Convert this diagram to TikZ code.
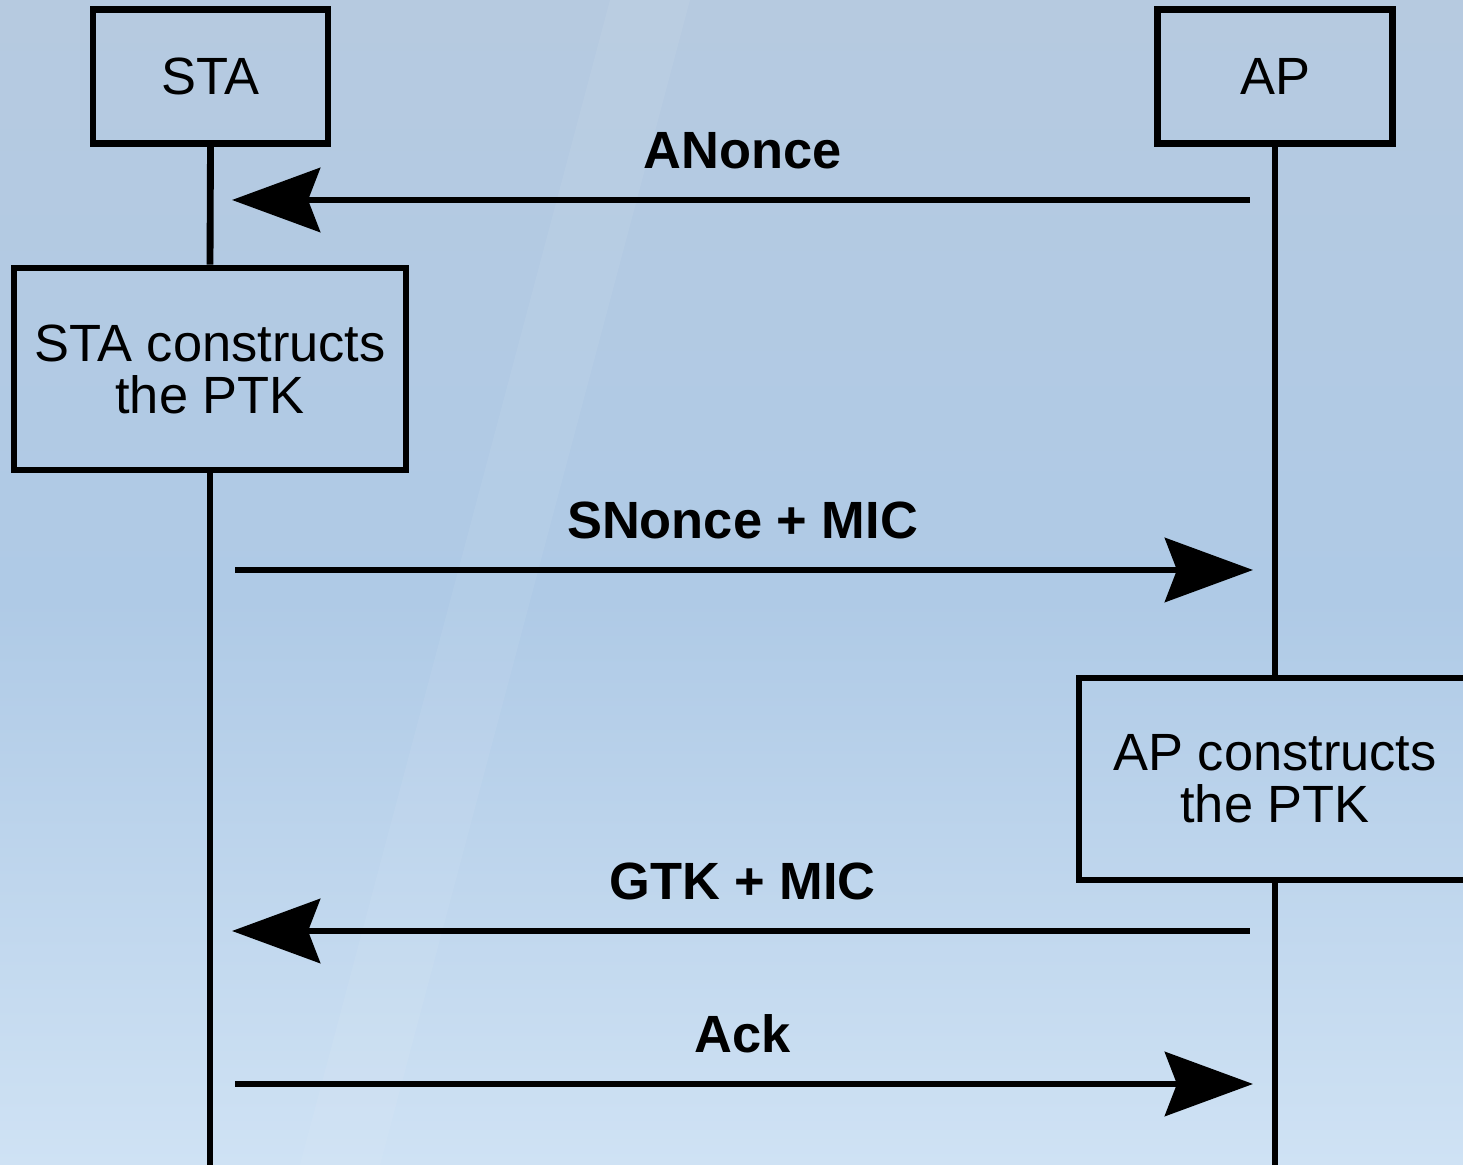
\documentclass[tikz,border=0pt]{standalone}
\usepackage{fontspec}
\setmainfont{Liberation Sans}
\usetikzlibrary{arrows.meta,calc}

\definecolor{bgtop}{HTML}{B6CAE0}
\definecolor{bgmid}{HTML}{AFCAE6}
\definecolor{bgbot}{HTML}{CFE2F4}

\tikzset{
  diagramfont/.style={font=\fontsize{14.9}{14.8}\selectfont},
  actor/.style={draw, line width=1.85pt, minimum width=2.35cm, minimum height=1.34cm,
    inner sep=0pt, diagramfont},
  taskbox/.style={draw, line width=1.85pt, minimum width=3.92cm, minimum height=2.02cm,
    inner sep=0pt, align=center, diagramfont},
  lifeline/.style={line width=1.95pt},
  msg/.style={line width=1.85pt, -{Stealth[length=0.88cm, width=0.64cm, inset=0.12cm]},
    shorten <=0.25cm, shorten >=0.22cm},
  msglabel/.style={midway, above=0.28cm, inner sep=0pt,
    font=\fontsize{14.9}{14.8}\selectfont\bfseries},
}

\begin{document}
\begin{tikzpicture}[x=0.01cm, y=-0.01cm]
  % page frame and soft blue backdrop
  \useasboundingbox (0,0) rectangle (1463,1165);
  \clip (0,0) rectangle (1463,1165);
  \shade[top color=bgtop, bottom color=bgmid] (0,0) rectangle (1463,600);
  \shade[top color=bgmid, bottom color=bgbot] (0,600) rectangle (1463,1165);
  \fill[white, opacity=0.06] (610,0) -- (690,0) -- (380,1165) -- (300,1165) -- cycle;

  % participants
  \node[actor] (sta) at (210.5,76.5) {STA};
  \node[actor] (ap)  at (1275,76.5) {AP};

  % local computation boxes
  \node[taskbox] (stabox) at (210,369) {STA constructs\\the PTK};
  \node[taskbox] (apbox)  at (1275,779) {AP constructs\\the PTK};

  % lifeline ends and message anchors
  \coordinate (staend) at (210,1175);
  \coordinate (apend)  at (1275,1175);
  \coordinate (sta1) at (210,200);   \coordinate (ap1) at (1275,200);
  \coordinate (sta2) at (210,570);   \coordinate (ap2) at (1275,570);
  \coordinate (sta3) at (210,931);   \coordinate (ap3) at (1275,931);
  \coordinate (sta4) at (210,1084);  \coordinate (ap4) at (1275,1084);

  % lifelines
  \draw[lifeline] (sta.south) -- (stabox.north);
  \draw[lifeline] (stabox.south) -- (staend);
  \draw[lifeline] (ap.south) -- (apbox.north);
  \draw[lifeline] (apbox.south) -- (apend);

  % messages
  \draw[msg] (ap1) -- (sta1) node[msglabel] {ANonce};
  \draw[msg] (sta2) -- (ap2) node[msglabel] {SNonce + MIC};
  \draw[msg] (ap3) -- (sta3) node[msglabel] {GTK + MIC};
  \draw[msg] (sta4) -- (ap4) node[msglabel] {Ack};
\end{tikzpicture}
\end{document}
